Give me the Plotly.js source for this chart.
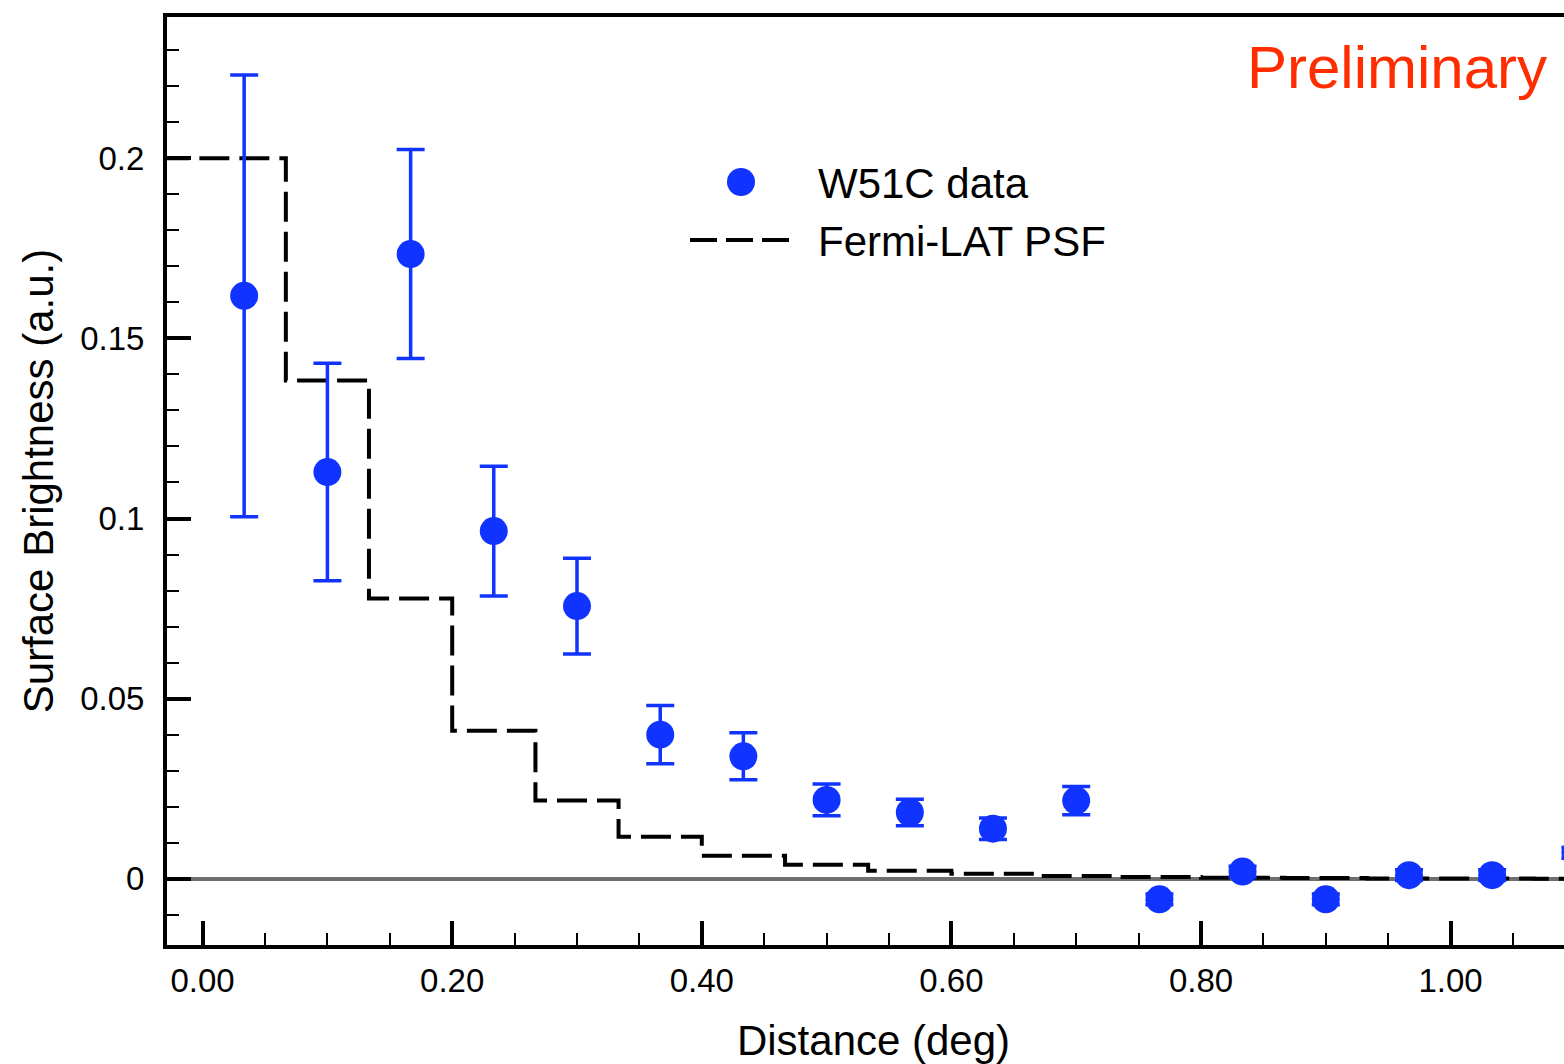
<!DOCTYPE html>
<html><head><meta charset="utf-8">
<script src="https://cdn.plot.ly/plotly-3.0.1.min.js"></script>
<style>html,body{margin:0;padding:0;overflow:hidden;background:#fff;width:1564px;height:1064px}</style>
</head><body><div id="chart" style="width:1580px;height:1064px"></div>
<script>
// W51C surface brightness profile
const distance = [0.0333,0.1,0.1667,0.2333,0.3,0.3667,0.4333,0.5,0.5667,0.6333,0.7,0.7667,0.8333,0.9,0.9667,1.0333,1.1];
const brightness = [0.1618,0.1129,0.1734,0.0965,0.0757,0.04,0.034,0.0219,0.0184,0.0139,0.0217,-0.0057,0.002,-0.0057,0.001,0.001,0.0072];
const brightnessErr = [0.0613,0.0302,0.029,0.018,0.0133,0.0081,0.0065,0.0044,0.0037,0.003,0.0039,0.0015,0.0015,0.0015,0.0015,0.0015,0.0015];
// Fermi-LAT PSF step profile (bin edges and values)
const psfEdges = [-0.0667,0.0667,0.1333,0.2,0.2667,0.3333,0.4,0.4667,0.5333,0.6,0.6667,0.7333,0.8,0.8667,0.9333,1.0,1.0667,1.1333];
const psfValues = [0.2,0.1383,0.0778,0.0411,0.0217,0.0117,0.0064,0.0039,0.0022,0.0014,0.0008,0.0005,0.0003,0.0002,0.0001,0.0001,0.0];
const xTickVals = [0,0.2,0.4,0.6,0.8,1.0];
const xTickText = ['0.00','0.20','0.40','0.60','0.80','1.00'];
const legendLabels = ['W51C data','Fermi-LAT PSF'];
const stampText = 'Preliminary';

const BLUE = '#1133ff';
const FONT = '"Liberation Sans", Arial, Helvetica, sans-serif';

const psfY = psfValues.concat([psfValues[psfValues.length-1]]);

const traces = [
  {
    x: psfEdges, y: psfY, type: 'scatter', mode: 'lines', name: legendLabels[1],
    line: {shape: 'hv', color: '#000', width: 4, dash: '30px,10px'},
    showlegend: false, hoverinfo: 'skip'
  },
  {
    x: distance, y: brightness, type: 'scatter', mode: 'markers', name: legendLabels[0],
    marker: {size: 28, color: BLUE, line: {width: 0}},
    error_y: {type: 'data', array: brightnessErr, visible: true, color: BLUE, thickness: 3.5, width: 14},
    cliponaxis: false, showlegend: false
  }
];

// plot area in pixels: left 167, right 1580 (page shows up to 1564), top 17, bottom 945
const W = 1580;
const L = 167, R = W, T = 17, B = 945;
const px = v => (v - L) / (R - L);
const py = v => (B - v) / (B - T);

const layout = {
  width: W, height: 1064,
  margin: {l: L, r: 0, t: T, b: 1064 - B, pad: 0},
  paper_bgcolor: '#fff', plot_bgcolor: '#fff',
  font: {family: FONT, color: '#000'},
  showlegend: false,
  xaxis: {
    range: [-0.02853, 1.1037], autorange: false,
    showline: true, linewidth: 4, linecolor: '#000', mirror: true,
    ticks: 'inside', ticklen: 24, tickwidth: 4, tickcolor: '#000',
    tickvals: xTickVals, ticktext: xTickText,
    minor: {dtick: 0.05, tick0: 0, ticks: 'inside', ticklen: 12, tickwidth: 2, tickcolor: '#000', showgrid: false},
    showgrid: false, zeroline: false,
    tickfont: {size: 33, family: FONT}, ticklabelstandoff: 3,
    title: {text: 'Distance (deg)', font: {size: 42, family: FONT}, standoff: 30}
  },
  yaxis: {
    range: [-0.01838, 0.2392], autorange: false,
    showline: true, linewidth: 4, linecolor: '#000', mirror: false,
    ticks: 'inside', ticklen: 24, tickwidth: 4, tickcolor: '#000',
    dtick: 0.05, tick0: 0,
    minor: {dtick: 0.01, tick0: 0, ticks: 'inside', ticklen: 12, tickwidth: 2, tickcolor: '#000', showgrid: false},
    showgrid: false,
    zeroline: true, zerolinecolor: '#6e6e6e', zerolinewidth: 3.5,
    tickfont: {size: 33, family: FONT}, ticklabelstandoff: 12,
    title: {text: 'Surface Brightness (a.u.)', font: {size: 42, family: FONT}, standoff: 14}
  },
  shapes: [
    {type: 'circle', xref: 'paper', yref: 'paper', xsizemode: 'pixel', ysizemode: 'pixel',
     xanchor: px(741), yanchor: py(182), x0: -14, x1: 14, y0: -14, y1: 14,
     fillcolor: BLUE, line: {width: 0}},
    {type: 'line', xref: 'paper', yref: 'paper', x0: px(690), x1: px(790), y0: py(240), y1: py(240),
     line: {color: '#000', width: 4, dash: '27px,9px'}}
  ],
  annotations: [
    {xref: 'paper', yref: 'paper', x: px(816), y: py(184), xanchor: 'left', yanchor: 'middle',
     text: legendLabels[0], showarrow: false, font: {size: 42, family: FONT, color: '#000'}},
    {xref: 'paper', yref: 'paper', x: px(816), y: py(242), xanchor: 'left', yanchor: 'middle',
     text: legendLabels[1], showarrow: false, font: {size: 42, family: FONT, color: '#000'}},
    {xref: 'paper', yref: 'paper', x: px(1549), y: py(67), xanchor: 'right', yanchor: 'middle',
     text: stampText, showarrow: false, font: {size: 60, family: FONT, color: '#ff2d00'}}
  ]
};

Plotly.newPlot('chart', traces, layout, {staticPlot: true, displayModeBar: false});
</script>
</body></html>
